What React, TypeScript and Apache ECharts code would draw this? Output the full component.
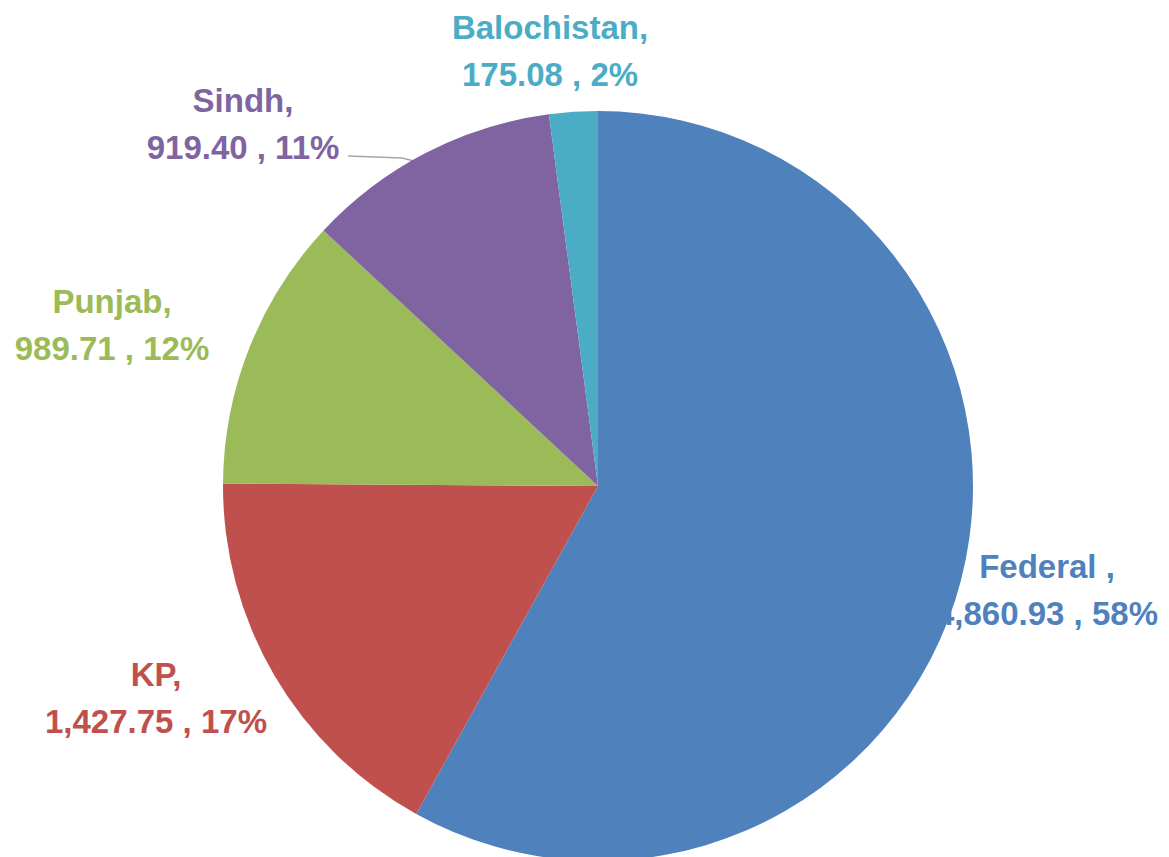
import React, { useEffect, useRef } from "react";
import * as echarts from "echarts";

const categories = ["Federal ,", "KP,", "Punjab,", "Sindh,", "Balochistan,"];
const values = [4860.93, 1427.75, 989.71, 919.4, 175.08];
const colors = ["#4F81BD", "#C0504D", "#9BBB59", "#8064A2", "#4BACC6"];

// label anchor centres (layout only)
const labelCenters: [number, number][] = [
  [1047, 590],
  [156, 698],
  [112, 325],
  [243, 124],
  [550, 51],
];

export default function App() {
  const ref = useRef<HTMLDivElement>(null);
  useEffect(() => {
    if (!ref.current) return;
    const chart = echarts.init(ref.current, undefined, { renderer: "svg" });
    chart.setOption({
      animation: false,
      backgroundColor: "#ffffff",
      series: [
        {
          type: "pie",
          center: [598, 486],
          radius: 375,
          startAngle: 90,
          clockwise: true,
          percentPrecision: 0,
          data: categories.map((name, i) => ({
            name,
            value: values[i],
            itemStyle: { color: colors[i] },
            label: { color: colors[i] },
            labelLine: { show: i === 3 },
          })),
          label: {
            show: true,
            position: "outside",
            fontFamily: "Liberation Sans, Arial, sans-serif",
            fontWeight: "bold",
            fontSize: 33,
            lineHeight: 47,
            align: "center",
            overflow: "none",
            edgeDistance: 0,
            formatter: (p: any) =>
              `${p.name}\n${Number(p.value).toLocaleString("en-US", {
                minimumFractionDigits: 2,
                maximumFractionDigits: 2,
              })} , ${p.percent}%`,
          },
          labelLine: {
            show: false,
            lineStyle: { color: "#a6a6a6", width: 1.5 },
          },
          labelLayout: (params: any) => {
            const c = labelCenters[params.dataIndex];
            const out: any = {
              x: c[0],
              y: c[1],
              align: "center",
              verticalAlign: "middle",
            };
            if (params.dataIndex === 3) {
              out.labelLinePoints = [
                [418, 162],
                [402, 158],
                [348, 156],
              ];
            }
            return out;
          },
        },
      ],
    });
    return () => chart.dispose();
  }, []);
  return (
    <div
      ref={ref}
      style={{ position: "fixed", left: 0, top: 0, width: 1169, height: 857 }}
    />
  );
}
